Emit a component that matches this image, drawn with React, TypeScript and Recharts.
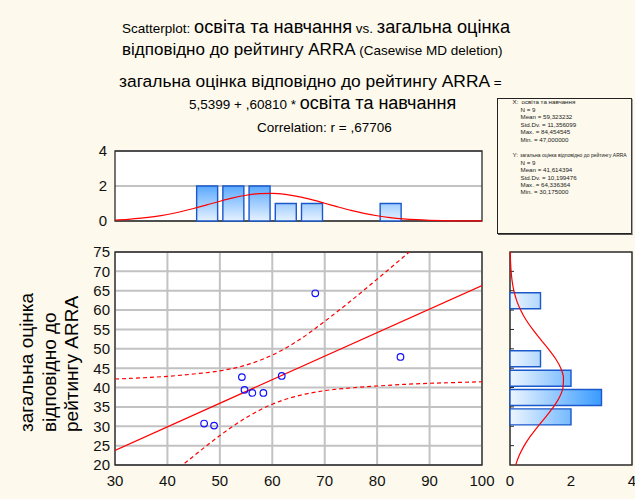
import React from 'react';
import {
  ComposedChart,
  Scatter,
  Line,
  Bar,
  XAxis,
  YAxis,
  CartesianGrid,
  ReferenceArea,
} from 'recharts';

const FONT = '"Liberation Sans", Arial, sans-serif';

// ---- data ----
const eduValues = [47.0, 48.9, 54.2, 54.7, 56.2, 58.3, 61.8, 68.2, 84.45];
const arraValues = [30.7, 30.175, 42.7, 39.4, 38.6, 38.6, 43.0, 64.34, 47.9];

const fitX = [30, 100];
const fitY = [23.78, 66.35];

const bandX = [30, 35, 40, 45, 50, 55, 60, 65, 70, 75, 80, 85, 90, 95, 100];
const upperBand = [42.2, 42.5, 42.9, 43.5, 44.3, 45.8, 48.4, 52.2, 57.1, 62.4, 68.0, 73.7, 79.5, 85.3, 91.2];
const lowerBand = [5.3, 11.1, 16.8, 22.3, 27.6, 32.2, 35.7, 37.9, 39.2, 39.9, 40.4, 40.8, 41.1, 41.3, 41.5];

const xBinMids = [47.5, 52.5, 57.5, 62.5, 67.5, 82.5];
const xBinCounts = [2, 2, 2, 1, 1, 1];
const yBinMids = [32.5, 37.5, 42.5, 47.5, 62.5];
const yBinCounts = [2, 3, 2, 1, 1];

const xCurveX = [30, 32.5, 35, 37.5, 40, 42.5, 45, 47.5, 50, 52.5, 55, 57.5, 60, 62.5, 65, 67.5, 70, 72.5, 75, 77.5, 80, 82.5, 85, 87.5, 90, 92.5, 95, 97.5, 100];
const xCurveV = [0.056, 0.097, 0.16, 0.25, 0.372, 0.528, 0.714, 0.92, 1.129, 1.32, 1.47, 1.561, 1.578, 1.52, 1.395, 1.22, 1.016, 0.806, 0.609, 0.439, 0.301, 0.197, 0.123, 0.073, 0.041, 0.022, 0.011, 0.006, 0.003];

const yCurveY = [20, 22.5, 25, 27.5, 30, 32.5, 35, 37.5, 40, 42.5, 45, 47.5, 50, 52.5, 55, 57.5, 60, 62.5, 65, 67.5, 70, 72.5, 75];
const yCurveV = [0.186, 0.304, 0.467, 0.675, 0.92, 1.181, 1.426, 1.622, 1.738, 1.753, 1.666, 1.49, 1.255, 0.996, 0.744, 0.523, 0.347, 0.216, 0.127, 0.07, 0.037, 0.018, 0.008];

const mainXTicks = [30, 40, 50, 60, 70, 80, 90, 100];
const mainYTicks = [20, 25, 30, 35, 40, 45, 50, 55, 60, 65, 70, 75];
const innerXTicks = [40, 50, 60, 70, 80, 90];
const innerYTicks = [25, 30, 35, 40, 45, 50, 55, 60, 65, 70];
const countTicks = [0, 2, 4];
const countGrid = [2];

const statsX = ['N = 9', 'Mean = 59,323232', 'Std.Dv. = 11,356099', 'Max. = 84,454545', 'Min. = 47,000000'];
const statsY = ['N = 9', 'Mean = 41,614394', 'Std.Dv. = 10,199476', 'Max. = 64,336364', 'Min. = 30,175000'];

// ---- tables ----
const scatterData = eduValues.map((x, i) => ({ x, y: arraValues[i] }));
const fitData = fitX.map((x, i) => ({ x, y: fitY[i] }));
const upperData = bandX.map((x, i) => ({ x, y: upperBand[i] }));
const lowerData = bandX.map((x, i) => ({ x, y: lowerBand[i] }));
const xBins = xBinMids.map((x, i) => ({ x, count: xBinCounts[i] }));
const yBins = yBinMids.map((y, i) => ({ y, count: yBinCounts[i] }));
const xCurve = xCurveX.map((x, i) => ({ x, v: xCurveV[i] }));
const yCurve = yCurveY.map((y, i) => ({ y, v: yCurveV[i] }));

const tickStyle = { fill: '#111', fontSize: 15, fontFamily: FONT };
const RED = '#ff0000';
const FRAME = '#2a2a2a';
const GRID = '#c2c2c2';
const BAR_STROKE = '#1a58cc';

const abs: React.CSSProperties = { position: 'absolute', left: 0, top: 0 };

const Circle = (p: any) => (
  <circle cx={p.cx} cy={p.cy} r={3.3} fill="none" stroke="#1010ff" strokeWidth={1.2} />
);
const NoLabel = () => null;

// plot rectangles (page px)
const TOP_M = { top: 151, right: 153, bottom: 278, left: 115 };
const MAIN_M = { top: 252, right: 153, bottom: 34, left: 115 };
const RIGHT_M = { top: 252, right: 3, bottom: 34, left: 510 };

export default function App() {
  return (
    <div
      style={{
        position: 'absolute',
        left: 0,
        top: 0,
        width: 635,
        height: 499,
        background: '#fdf9ec',
        overflow: 'hidden',
        fontFamily: FONT,
      }}
    >
      {/* ===== backgrounds + grids ===== */}
      <div style={abs}>
        <ComposedChart layout="vertical" width={635} height={499} margin={MAIN_M}>
          <CartesianGrid fill="#ffffff" stroke={GRID} strokeWidth={2} />
          <XAxis type="number" dataKey="x" domain={[30, 100]} ticks={innerXTicks} interval={0} mirror height={1}
            tick={NoLabel} tickLine={false} axisLine={false} />
          <YAxis type="number" dataKey="y" domain={[20, 75]} reversed ticks={innerYTicks} interval={0} mirror width={1}
            tick={NoLabel} tickLine={false} axisLine={false} />
        </ComposedChart>
      </div>
      <div style={abs}>
        <ComposedChart layout="vertical" width={635} height={499} margin={TOP_M}>
          <CartesianGrid vertical={false} fill="#ffffff" stroke={GRID} strokeWidth={2} />
          <XAxis type="number" dataKey="x" domain={[30, 100]} ticks={innerXTicks} interval={0} mirror height={1}
            tick={NoLabel} tickSize={4} axisLine={false} tickLine={{ stroke: FRAME }} />
          <XAxis xAxisId="top" orientation="top" type="number" domain={[30, 100]} ticks={innerXTicks} interval={0} mirror height={1}
            tick={NoLabel} tickSize={4} axisLine={false} tickLine={{ stroke: FRAME }} />
          <YAxis type="number" dataKey="c" domain={[0, 4]} reversed ticks={countGrid} interval={0} mirror width={1}
            tick={NoLabel} tickLine={false} axisLine={false} />
        </ComposedChart>
      </div>
      <div style={abs}>
        <ComposedChart layout="vertical" width={635} height={499} margin={RIGHT_M}>
          <CartesianGrid horizontal={false} fill="#ffffff" stroke={GRID} strokeWidth={2} />
          <XAxis type="number" domain={[0, 4]} ticks={countGrid} interval={0} mirror height={1}
            tick={NoLabel} tickLine={false} axisLine={false} />
          <YAxis type="number" dataKey="y" domain={[20, 75]} reversed mirror width={1}
            tick={NoLabel} tickLine={false} axisLine={false} />
        </ComposedChart>
      </div>

      {/* ===== main scatterplot ===== */}
      <div style={abs}>
        <ComposedChart width={635} height={499} margin={{ ...MAIN_M, left: MAIN_M.left - 1, bottom: MAIN_M.bottom - 20 }}>
          <CartesianGrid stroke={GRID} strokeWidth={2} horizontalValues={innerYTicks} verticalValues={innerXTicks} />
          <XAxis
            type="number"
            dataKey="x"
            domain={[30, 100]}
            ticks={mainXTicks}
            interval={0}
            height={20}
            tickLine={false}
            axisLine={false}
            tickSize={0}
            tickMargin={10}
            tick={tickStyle}
            allowDataOverflow
          />
          <YAxis
            type="number"
            dataKey="y"
            domain={[20, 75]}
            ticks={mainYTicks}
            interval={0}
            width={1}
            tickLine={false}
            axisLine={false}
            tickSize={0}
            tickMargin={5}
            tick={tickStyle}
            allowDataOverflow
          />
          <Line data={upperData} dataKey="y" type="monotone" stroke={RED} strokeWidth={1.2} strokeDasharray="4 3" dot={false} isAnimationActive={false} />
          <Line data={lowerData} dataKey="y" type="monotone" stroke={RED} strokeWidth={1.2} strokeDasharray="4 3" dot={false} isAnimationActive={false} />
          <Line data={fitData} dataKey="y" type="linear" stroke={RED} strokeWidth={1.2} dot={false} isAnimationActive={false} />
          <Scatter data={scatterData} dataKey="y" shape={Circle} isAnimationActive={false} />
          <ReferenceArea x1={30} x2={100} y1={20} y2={75} fill="none" stroke={FRAME} strokeWidth={1.3} fillOpacity={0} />
        </ComposedChart>
      </div>

      {/* ===== top histogram: bars ===== */}
      <div style={abs}>
        <ComposedChart width={635} height={499} data={xBins} margin={{ ...TOP_M, left: TOP_M.left - 1 }}>
          <defs>
            <linearGradient id="gTop" gradientUnits="userSpaceOnUse" x1="0" y1="186" x2="0" y2="221">
              <stop offset="0" stopColor="#5ba9ff" />
              <stop offset="1" stopColor="#e6f2ff" />
            </linearGradient>
          </defs>
          <CartesianGrid vertical={false} stroke={GRID} strokeWidth={2} horizontalValues={countGrid} />
          <XAxis type="number" dataKey="x" domain={[30, 100]} hide />
          <YAxis
            type="number"
            domain={[0, 4]}
            ticks={countTicks}
            interval={0}
            width={1}
            tickLine={false}
            axisLine={false}
            tickSize={0}
            tickMargin={8}
            tick={tickStyle}
          />
          <Bar dataKey="count" barSize={21} fill="url(#gTop)" stroke={BAR_STROKE} strokeWidth={1.4} isAnimationActive={false} />
          <ReferenceArea x1={30} x2={100} y1={0} y2={4} fill="none" stroke={FRAME} strokeWidth={1.3} fillOpacity={0} />
        </ComposedChart>
      </div>

      {/* top histogram: normal curve */}
      <div style={abs}>
        <ComposedChart width={635} height={499} data={xCurve} margin={TOP_M}>
          <XAxis type="number" dataKey="x" domain={[30, 100]} hide />
          <YAxis type="number" domain={[0, 4]} hide />
          <Line dataKey="v" type="monotone" stroke={RED} strokeWidth={1.2} dot={false} isAnimationActive={false} />
        </ComposedChart>
      </div>

      {/* ===== right histogram: bars ===== */}
      <div style={abs}>
        <ComposedChart layout="vertical" width={635} height={499} data={yBins} margin={{ ...RIGHT_M, bottom: RIGHT_M.bottom - 20 }}>
          <defs>
            <linearGradient id="gRight" gradientUnits="userSpaceOnUse" x1="510" y1="0" x2="601" y2="0">
              <stop offset="0" stopColor="#eef6ff" />
              <stop offset="1" stopColor="#3a9cff" />
            </linearGradient>
          </defs>
          <XAxis
            type="number"
            domain={[0, 4]}
            ticks={countTicks}
            interval={0}
            height={20}
            tickLine={false}
            axisLine={false}
            tickSize={0}
            tickMargin={10}
            tick={tickStyle}
          />
          <YAxis
            type="number"
            dataKey="y"
            domain={[20, 75]}
            reversed
            ticks={innerYTicks}
            interval={0}
            width={1}
            mirror
            tick={NoLabel}
            tickSize={4}
            axisLine={false}
            tickLine={{ stroke: FRAME }}
          />
          <YAxis
            yAxisId="r"
            orientation="right"
            type="number"
            domain={[20, 75]}
            reversed
            ticks={innerYTicks}
            interval={0}
            width={1}
            mirror
            tick={NoLabel}
            tickSize={4}
            axisLine={false}
            tickLine={{ stroke: FRAME }}
          />
          <Bar dataKey="count" barSize={16} fill="url(#gRight)" stroke={BAR_STROKE} strokeWidth={1.4} isAnimationActive={false} />
          <ReferenceArea x1={0} x2={4} y1={20} y2={75} fill="none" stroke={FRAME} strokeWidth={1.3} fillOpacity={0} />
        </ComposedChart>
      </div>

      {/* right histogram: normal curve */}
      <div style={abs}>
        <ComposedChart layout="vertical" width={635} height={499} data={yCurve} margin={RIGHT_M}>
          <XAxis type="number" domain={[0, 4]} hide />
          <YAxis type="number" dataKey="y" domain={[20, 75]} reversed hide />
          <Line dataKey="v" type="monotone" stroke={RED} strokeWidth={1.2} dot={false} isAnimationActive={false} />
        </ComposedChart>
      </div>

      {/* ===== titles, axis title, stats box ===== */}
      <svg width={635} height={499} style={abs} fontFamily={FONT}>
        <g fill="#000" style={{ whiteSpace: 'pre' }}>
          <text y={33}>
            <tspan x={122} fontSize={13.5}>Scatterplot: </tspan>
            <tspan fontSize={18.2}>освіта та навчання</tspan>
            <tspan fontSize={13.5}> vs. </tspan>
            <tspan fontSize={18.2}>загальна оцінка</tspan>
          </text>
          <text y={55}>
            <tspan x={122} fontSize={17}>відповідно до рейтингу ARRA</tspan>
            <tspan fontSize={13.5}> (Casewise MD deletion)</tspan>
          </text>
          <text y={87}>
            <tspan x={119} fontSize={17.4}>загальна оцінка відповідно до рейтингу ARRA</tspan>
            <tspan fontSize={13.5}> =</tspan>
          </text>
          <text y={109}>
            <tspan x={189} fontSize={13.5}>5,5399 + ,60810 * </tspan>
            <tspan fontSize={18}>освіта та навчання</tspan>
          </text>
          <text y={132}>
            <tspan x={257} fontSize={13.5}>Correlation: r = ,67706</tspan>
          </text>
        </g>

        <g fill="#000" fontSize={19}>
          <text transform="translate(33,432) rotate(-90)">загальна оцінка</text>
          <text transform="translate(55.5,432) rotate(-90)">відповідно до</text>
          <text transform="translate(78,432) rotate(-90)">рейтингу ARRA</text>
        </g>

        <rect x={497.5} y={98.5} width={134} height={135} fill="#fdf9ec" stroke="#222" strokeWidth={1} />
        <line x1={632} y1={99} x2={632} y2={234.5} stroke="#555" strokeWidth={1} />
        <line x1={498} y1={234.5} x2={632.5} y2={234.5} stroke="#555" strokeWidth={1} />
        <g fill="#222" fontSize={6.2}>
          <text x={512.5} y={104}>X:</text>
          <text x={521.5} y={104}>освіта та навчання</text>
          {statsX.map((s, i) => (
            <text key={'x' + i} x={520.5} y={111.7 + i * 7.45}>
              {s}
            </text>
          ))}
          <text x={512.5} y={157.3}>Y:</text>
          <text x={520} y={157.3} fontSize={5}>
            загальна оцінка відповідно до рейтингу ARRA
          </text>
          {statsY.map((s, i) => (
            <text key={'y' + i} x={520.5} y={165 + i * 7.35}>
              {s}
            </text>
          ))}
        </g>
      </svg>
    </div>
  );
}
